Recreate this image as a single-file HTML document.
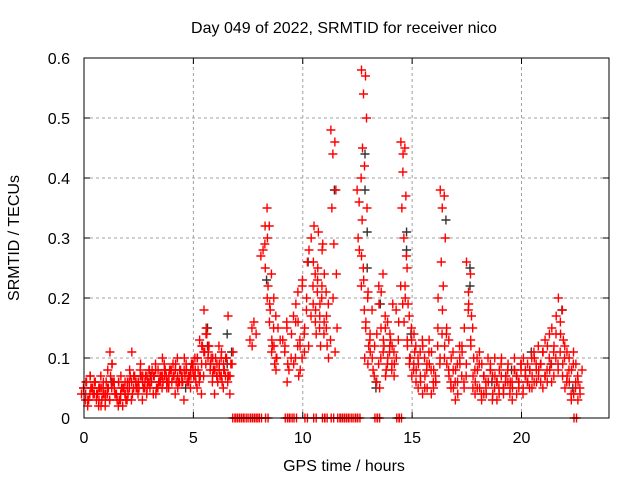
<!DOCTYPE html>
<html><head><meta charset="utf-8"><style>
body{margin:0;background:#fff}
svg{display:block;font-family:"Liberation Sans",sans-serif}
</style></head><body>
<svg id="chart" width="640" height="480">
<rect width="640" height="480" fill="#fff"/>
<g id="grid"></g>
<g id="marks"></g>
<g id="axes"></g>
<text x="344" y="33" text-anchor="middle" font-size="16">Day 049 of 2022, SRMTID for receiver nico</text>
<text x="344" y="471" text-anchor="middle" font-size="16">GPS time / hours</text>
<text transform="translate(19,238) rotate(-90)" text-anchor="middle" font-size="16">SRMTID / TECUs</text>
</svg>
<script>
const xTicks=[0,5,10,15,20];
const yTicks=[0,0.1,0.2,0.3,0.4,0.5,0.6];
const yTickLabels=["0","0.1","0.2","0.3","0.4","0.5","0.6"];
const redT=[0.0,0.1,0.2,0.3,0.4,0.5,0.6,0.7,0.8,0.9,1.0,1.1,1.2,1.3,1.4,1.5,1.6,1.7,1.8,1.9,2.0,2.1,2.2,2.3,2.4,2.5,2.6,2.7,2.8,2.9,3.0,3.1,3.2,3.3,3.4,3.5,3.6,3.7,3.8,3.9,4.0,4.1,4.2,4.3,4.4,4.5,4.6,4.7,4.8,4.9,5.0,5.1,5.2,5.3,5.4,5.5,5.6,5.7,5.8,5.9,6.0,6.1,6.2,6.3,6.4,6.5,6.6,6.7,
7.7,7.8,8.2,8.3,8.4,8.5,8.6,8.7,8.8,8.9,9.2,9.3,9.4,9.6,9.7,9.8,9.9,10.0,10.1,10.2,10.4,10.5,10.6,10.7,10.8,10.9,11.0,11.1,11.2,11.4,11.5,12.6,12.7,12.8,12.9,13.0,13.1,13.2,13.4,13.5,13.6,13.7,13.8,13.9,14.0,14.1,14.2,14.3,14.5,14.6,14.7,14.8,14.9,15.0,15.1,15.2,15.3,15.4,15.5,15.6,15.7,15.8,15.9,16.0,16.1,16.2,16.3,16.4,16.5,16.6,16.7,16.8,16.9,17.0,17.1,17.2,17.3,17.4,17.5,17.6,17.7,17.8,17.9,18.0,18.1,18.2,18.3,18.4,18.5,18.6,18.7,18.8,18.9,19.0,19.1,19.2,19.3,19.4,19.5,19.6,19.7,19.8,19.9,20.0,20.1,20.2,20.3,20.4,20.5,20.6,20.7,20.8,20.9,21.0,21.1,21.2,21.3,21.4,21.5,21.6,21.7,21.8,21.9,22.0,22.1,22.2,22.3,22.4,22.5,22.6,22.7];
const redV=[[.04,.03,.05,.06],[.05,.02,.04,.03],[.06,.04,.03,.05],[.03,.05,.07,.04],[.07,.04,.05,.06],[.05,.03,.06,.04],[.06,.02,.04,.05],[.04,.07,.05,.03],[.03,.05,.02,.04],[.05,.02,.04,.06],[.06,.04,.03,.05],[.04,.03,.05,.07],[.08,.05,.03,.06],[.11,.06,.09,.04],[.09,.04,.06,.03],[.05,.02,.04,.03],[.04,.03,.06,.05],[.06,.02,.04,.05],[.07,.04,.05,.03],[.05,.03,.06,.04],[.04,.06,.05,.07],[.06,.03,.05,.04],[.08,.05,.06,.07],[.11,.06,.07,.05],[.07,.04,.06,.05],[.05,.08,.06,.07],[.06,.03,.07,.05],[.09,.05,.06,.07],[.07,.04,.05,.06],[.06,.08,.07,.05],[.05,.07,.06,.08],[.08,.04,.06,.07],[.06,.09,.07,.05],[.07,.05,.08,.06],[.04,.06,.05,.07],[.08,.05,.07,.06],[.06,.09,.07,.08],[.10,.07,.08,.06],[.07,.05,.06,.08],[.05,.08,.07,.06],[.06,.09,.08,.07],[.08,.04,.07,.06],[.07,.10,.08,.06],[.09,.06,.07,.08],[.05,.07,.08,.06],[.08,.03,.06,.07],[.07,.09,.08,.06],[.10,.06,.08,.07],[.08,.05,.07,.09],[.06,.09,.08,.07],[.07,.10,.08,.06],[.09,.05,.07,.08],[.08,.06,.10,.07],[.10,.04,.07,.12],[.13,.07,.09,.11],[.12,.09,.11,.14],[.18,.10,.14,.12],[.15,.08,.12,.10],[.11,.06,.09,.08],[.09,.04,.07,.10],[.10,.07,.08,.06],[.08,.12,.09,.07],[.07,.10,.08,.06],[.09,.05,.07,.08],[.11,.07,.09,.10],[.08,.06,.10,.07],[.10,.04,.07,.09],[.17,.09,.07,.11],
[.13,.16,.15],[.12,.14],[.27,.29],[.28,.35,.32,.22],[.25,.32,.20,.18],[.30,.24,.16,.12],[.19,.15,.11,.09],[.13,.17,.20,.10],[.12,.15,.08],[.10,.13],[.13,.16,.11,.09],[.12,.08,.15],[.06,.10],[.14,.10,.17],[.09,.12,.16,.07],[.19,.13,.21],[.16,.10,.12],[.08,.14,.22],[.23,.18,.11,.26],[.15,.12,.20],[.28,.22,.17,.32],[.30,.24,.19,.14],[.26,.21,.16,.31],[.18,.15,.23,.12],[.25,.20,.17,.29],[.19,.14,.22],[.28,.21,.16,.12],[.24,.19,.15],[.17,.13,.10],[.48,.46,.44,.38,.35,.29,.24],[.20,.15,.11],[.38,.40,.36,.33,.30],[.28,.25,.22,.18],[.58,.57,.54,.50,.45,.42,.35,.27],[.23,.20,.15,.12,.10],[.16,.13,.09],[.21,.18,.14,.08],[.11,.07,.10],[.12,.09,.06,.05],[.14,.10,.22],[.19,.24,.15,.12],[.21,.17,.11,.08],[.13,.09,.15],[.07,.11,.16,.13],[.10,.08,.12,.19],[.14,.11,.09],[.12,.18,.07],[.09,.13,.10],[.16,.19,.22],[.46,.45,.41,.37,.35,.30,.27],[.44,.25,.22,.19,.16],[.20,.17,.13,.10],[.12,.15,.09],[.10,.08,.13,.11],[.07,.12,.09],[.14,.10,.06],[.08,.11,.05],[.09,.13,.07],[.06,.10,.04],[.12,.08,.05],[.07,.11,.09],[.05,.08,.13],[.09,.06,.04],[.11,.07,.05],[.08,.12,.06],[.06,.09,.15],[.20,.14,.10],[.38,.37,.35,.30,.26,.22],[.18,.14,.10],[.12,.08,.15],[.09,.06,.13],[.07,.11,.05],[.10,.06,.08],[.05,.09,.03],[.08,.12,.06],[.04,.07,.10],[.09,.06,.12],[.11,.07,.05],[.15,.18,.09],[.26,.24,.21,.17],[.19,.15,.13,.10],[.12,.08,.05],[.07,.10,.04],[.06,.09,.05],[.08,.04,.11],[.05,.07,.03],[.09,.06,.04],[.07,.10,.05],[.04,.08,.06],[.06,.03,.09],[.08,.05,.07],[.04,.06,.10],[.07,.05,.03],[.06,.09,.04],[.08,.05,.07],[.10,.06,.04],[.05,.08,.07],[.07,.04,.06],[.09,.06,.05],[.06,.08,.03],[.05,.07,.10],[.08,.06,.04],[.07,.09,.05],[.06,.04,.08],[.09,.07,.05],[.10,.06,.08],[.07,.05,.09],[.06,.10,.08],[.08,.11,.05],[.07,.09,.06],[.10,.12,.08],[.06,.09,.07],[.08,.11,.06],[.09,.07,.05],[.11,.08,.13],[.07,.10,.06],[.12,.09,.14],[.08,.11,.06],[.15,.10,.07],[.12,.09,.14],[.17,.11,.08],[.20,.18,.16,.13],[.14,.10,.07],[.09,.06,.12],[.05,.08,.11],[.07,.04,.10],[.06,.09,.03],[.08,.05,.11],[.04,.07,.06],[.09,.05,.03],[.06,.08,.04]];
const zeroT=[6.8,6.9,7.0,7.1,7.2,7.3,7.5,7.6,7.7,7.8,7.9,8.0,8.3,9.2,9.3,9.4,9.6,10.1,10.5,10.9,11.0,11.3,11.6,11.7,11.8,11.9,12.0,12.1,12.3,12.4,12.5,13.3,13.4,14.3,14.4,22.4];
const blackT=[5.6,6.5,6.7,8.3,10.2,11.4,12.8,12.9,13.3,13.5,14.7,14.9,16.5,17.6,18.6,19.5,20.4,21.3,21.8,22.3,1.2,3.0,4.6];
const blackV=[[.15,.12],[.14,.09],[.11],[.23],[.26],[.38],[.44,.38],[.31,.25],[.05,.06],[.19],[.31,.28],[.14],[.33],[.25,.22],[.06],[.08],[.11],[.09],[.18],[.05],[.06],[.07],[.05]];

const X0=84,X1=609,Y0=418,Y1=58;
const sx=h=>X0+(X1-X0)*h/24;
const sy=v=>Y0-(Y0-Y1)*v/0.6;
const NS="http://www.w3.org/2000/svg";
function el(tag,attrs,parent){const e=document.createElementNS(NS,tag);for(const k in attrs)e.setAttribute(k,attrs[k]);parent.appendChild(e);return e;}
const grid=document.getElementById('grid'),axes=document.getElementById('axes'),marks=document.getElementById('marks');
xTicks.forEach(t=>{if(t>0){const l=el('line',{x1:sx(t),x2:sx(t),y1:Y0,y2:Y1,stroke:'#a0a0a0','stroke-dasharray':'3,3'},grid);}
 el('line',{x1:sx(t),x2:sx(t),y1:Y0,y2:Y0-6,stroke:'#000'},axes);el('line',{x1:sx(t),x2:sx(t),y1:Y1,y2:Y1+6,stroke:'#000'},axes);
 const tx=el('text',{x:sx(t),y:Y0+25,'text-anchor':'middle','font-size':'16'},axes);tx.textContent=t;
 });
yTicks.forEach((t,i)=>{if(t>0&&t<0.6){const l=el('line',{x1:X0,x2:X1,y1:sy(t),y2:sy(t),stroke:'#a0a0a0','stroke-dasharray':'3,3'},grid);}
 el('line',{x1:X0,x2:X0+6,y1:sy(t),y2:sy(t),stroke:'#000'},axes);el('line',{x1:X1,x2:X1-6,y1:sy(t),y2:sy(t),stroke:'#000'},axes);
 const tx=el('text',{x:X0-14,y:sy(t)+6,'text-anchor':'end','font-size':'16'},axes);tx.textContent=yTickLabels[i];
 });
const frame=el('rect',{x:X0,y:Y1,width:X1-X0,height:Y0-Y1,fill:'none',stroke:'#000'},axes);


function plus(x,y,c){const p=el('path',{d:`M${x-4.5},${y}h9M${x},${y-4.5}v9`,stroke:c,'stroke-width':'1.4',fill:'none'},marks);
 
 }
blackT.forEach((t,i)=>blackV[i].forEach(v=>plus(sx(t)+1,sy(v),'#333')));
const offs=[-2.5,1.5,-0.5,2.5,-1.5,0.5,3];
redT.forEach((t,i)=>redV[i].forEach((v,j)=>plus(sx(t)+offs[j%offs.length],sy(v),'#ff0000')));
zeroT.forEach(t=>{plus(sx(t),sy(0),'#ff0000');plus(sx(t)+2.5,sy(0),'#ff0000');});
</script>
</body></html>
